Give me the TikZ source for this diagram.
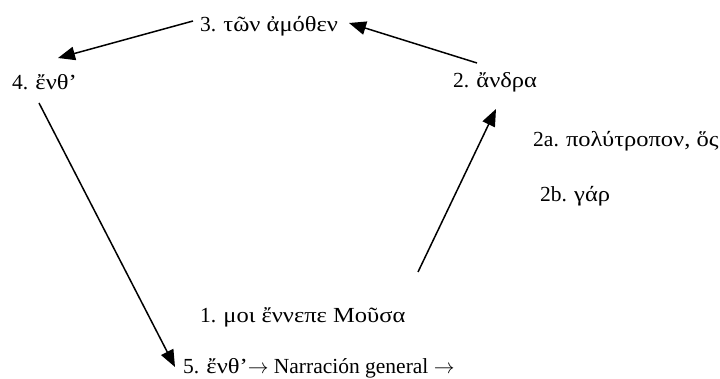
\documentclass[tikz,border=0pt]{standalone}
\usepackage{fontspec}
\setmainfont{Liberation Serif}
\newfontfamily\grk[FakeStretch=1.14]{Liberation Serif}
\usetikzlibrary{arrows.meta}
\tikzset{
  lbl/.style={anchor=base west,inner sep=0pt,font=\fontsize{21.5}{26}\selectfont},
  arr/.style={line width=1.5pt,-{Triangle[length=17pt,width=13.5pt]}},
}
\newcommand{\rarr}{\ensuremath{\rightarrow}}
\begin{document}
\begin{tikzpicture}[x=1pt,y=-1pt]
\useasboundingbox (0,0) rectangle (720,379);
\node[lbl] (n3) at (200,32) {3. {\grk τῶν ἀμόθεν}};
\node[lbl] (n4) at (12,90) {4. {\grk ἔνθ’}};
\node[lbl] (n2) at (453,88) {2. {\grk ἄνδρα}};
\node[lbl] (n2a) at (533,147) {2a. {\grk πολύτροπον, ὅς}};
\node[lbl] (n2b) at (540,202) {2b. {\grk γάρ}};
\node[lbl] (n1) at (200,322) {1. {\grk μοι ἔννεπε Μοῦσα}};
\node[lbl] (n5) at (183,373) {5. {\grk ἔνθ’}\rarr{} Narración general \rarr};
\coordinate (s2) at (477,63);
\coordinate (t3) at (349,23);
\coordinate (s3) at (193,21);
\coordinate (t4) at (58,58);
\coordinate (s4) at (39,103);
\coordinate (t5) at (175,367);
\coordinate (s1) at (418,272);
\coordinate (t2) at (496,109);
\draw[arr] (s2) -- (t3);
\draw[arr] (s3) -- (t4);
\draw[arr] (s4) -- (t5);
\draw[arr] (s1) -- (t2);
\end{tikzpicture}
\end{document}
